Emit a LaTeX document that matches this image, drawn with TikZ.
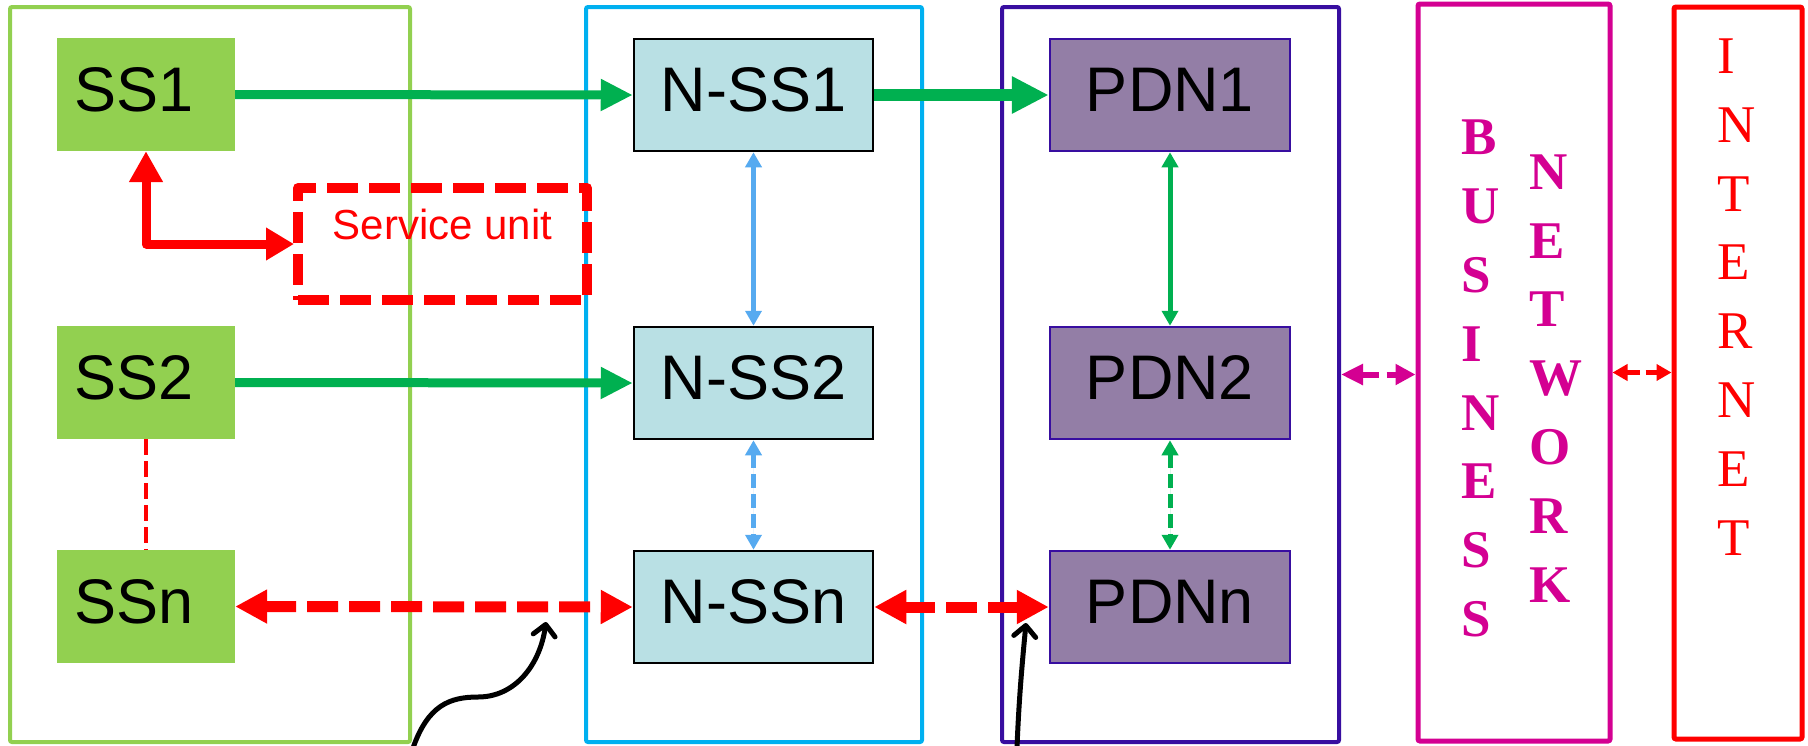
\documentclass[tikz,border=0pt]{standalone}
\usepackage{fontspec}
\setmainfont{Liberation Sans}
\newfontfamily\serifletters{Liberation Serif}
\usetikzlibrary{arrows.meta}

\definecolor{ssgreen}{RGB}{146,208,80}
\definecolor{arrowgreen}{RGB}{0,176,80}
\definecolor{framecyan}{RGB}{0,176,240}
\definecolor{nssfill}{RGB}{185,224,228}
\definecolor{pdnfill}{RGB}{147,126,166}
\definecolor{indigo}{RGB}{56,14,160}
\definecolor{bizmagenta}{RGB}{212,0,146}
\definecolor{linkblue}{RGB}{86,170,240}

\begin{document}
\begin{tikzpicture}[x=1pt,y=-1pt,
  frame/.style={draw, line width=4pt, rounded corners=2pt, inner sep=0pt},
  boxtext/.style={font=\fontsize{63}{70}\selectfont, text height=45pt, text depth=12pt, inner sep=0pt},
  ssbox/.style={boxtext, fill=ssgreen, minimum width=178pt, minimum height=113pt},
  nssbox/.style={boxtext, fill=nssfill, draw=black, line width=2.5pt, minimum width=239pt, minimum height=112pt},
  pdnbox/.style={boxtext, fill=pdnfill, draw=indigo, line width=2.5pt, minimum width=240pt, minimum height=112pt},
  svcbox/.style={draw=red, line width=10pt, line join=round, dash pattern=on 31pt off 11pt, outer sep=4pt,
    minimum width=289pt, minimum height=112pt, text=red, font=\fontsize{42}{48}\selectfont,
    text height=31pt, text depth=41pt, inner sep=0pt},
  columnword/.style={inner sep=0pt, align=left, anchor=west},
  flowarrow/.style={draw=arrowgreen, line width=9pt, -{Triangle[length=32pt,width=30pt]}},
  bigflow/.style={draw=arrowgreen, line width=12pt, -{Triangle[length=37pt,width=35pt]}},
  thinlink/.style={line width=5pt, {Triangle[length=15pt,width=16pt]}-{Triangle[length=15pt,width=16pt]}},
  thindash/.style={thinlink, dash pattern=on 14pt off 6pt},
  reddash/.style={draw=red, line width=11pt, dash pattern=on 31pt off 11pt,
    {Triangle[length=32pt,width=32pt]}-{Triangle[length=32pt,width=32pt]}},
  svclink/.style={draw=red, line width=9pt, line join=round,
    {Triangle[length=31pt,width=32pt]}-{Triangle[length=28pt,width=31pt]}},
  bizlink/.style={draw=bizmagenta, line width=6pt, dash pattern=on 17pt off 8pt,
    {Triangle[length=22pt,width=20pt]}-{Triangle[length=20pt,width=20pt]}},
  netlink/.style={draw=red, line width=5pt, dash pattern=on 13pt off 6pt,
    {Triangle[length=15pt,width=16pt]}-{Triangle[length=15pt,width=16pt]}},
  pointer/.style={draw=black, line width=5pt, line cap=round,
    -{Straight Barb[round,length=11pt,width=22pt]}}
]
\useasboundingbox (0,0) rectangle (1808,745);

% domain frames
\node[frame, draw=ssgreen, minimum width=400pt, minimum height=735pt] (fss) at (210,374.5) {};
\node[frame, draw=framecyan, minimum width=336pt, minimum height=735pt] (fnss) at (754,374.5) {};
\node[frame, draw=indigo, minimum width=337pt, minimum height=735pt] (fpdn) at (1170.5,374.5) {};
\node[frame, draw=bizmagenta, line width=5pt, minimum width=192pt, minimum height=737pt] (fbiz) at (1514,372.5) {};
\node[frame, draw=red, line width=5pt, minimum width=128pt, minimum height=732pt] (fnet) at (1738,373) {};

% subsystems (label set slightly left of centre)
\node[ssbox] (ss1) at (146,94.5) {SS1\kern24pt};
\node[ssbox] (ss2) at (146,382.5) {SS2\kern24pt};
\node[ssbox] (ssn) at (146,606.5) {SSn\kern24pt};

\node[nssbox] (nss1) at (753.5,95) {N-SS1};
\node[nssbox] (nss2) at (753.5,383) {N-SS2};
\node[nssbox] (nssn) at (753.5,607) {N-SSn};

\node[pdnbox] (pdn1) at (1170,95) {PDN1};
\node[pdnbox] (pdn2) at (1170,383) {PDN2};
\node[pdnbox] (pdnn) at (1170,607) {PDNn};

\node[svcbox] (svc) at (442.5,244) {Service unit};

% vertical lettering
\node[columnword, text=bizmagenta, font=\serifletters\bfseries\fontsize{53}{68.9}\selectfont]
  (business) at (1461,378.5) {B\\U\\S\\I\\N\\E\\S\\S};
\node[columnword, text=bizmagenta, font=\serifletters\bfseries\fontsize{53}{68.9}\selectfont]
  (network) at (1529,378.5) {N\\E\\T\\W\\O\\R\\K};
\node[columnword, text=red, font=\serifletters\fontsize{53}{68.9}\selectfont]
  (internet) at (1717,297) {I\\N\\T\\E\\R\\N\\E\\T};

% connectors
\draw[flowarrow] (ss1.east) -- (nss1.west);
\draw[flowarrow] (ss2.east) -- (nss2.west);
\draw[bigflow] (nss1.east) -- (pdn1.west);

\draw[thinlink, draw=linkblue, fill=linkblue] (nss1.south) -- (nss2.north);
\draw[thindash, draw=linkblue, fill=linkblue] (nss2.south) -- (nssn.north);
\draw[thinlink, draw=arrowgreen, fill=arrowgreen] (pdn1.south) -- (pdn2.north);
\draw[thindash, draw=arrowgreen, fill=arrowgreen] (pdn2.south) -- (pdnn.north);

\draw[red, line width=4pt, dash pattern=on 16pt off 6pt] (ss2.south) -- (ssn.north);
\draw[svclink] (ss1.south) |- (svc.west);

\draw[reddash] (ssn.east) -- (nssn.west);
\draw[reddash] (nssn.east) -- (pdnn.west);

\draw[bizlink] (fpdn.east) -- (fpdn.east -| fbiz.west);
\draw[netlink] (fbiz.east) -- (fbiz.east -| fnet.west);

% pointers coming up from below
\coordinate (p1s) at (413,748);
\coordinate (p1e) at (546,622);
\coordinate (p2s) at (1017,748);
\coordinate (p2e) at (1026,623);
\draw[pointer] (p1s) .. controls (428,705) and (450,697) .. (478,697)
  .. controls (515,697) and (540,665) .. (p1e);
\draw[pointer] (p2s) .. controls (1019,695) and (1023,655) .. (p2e);
\end{tikzpicture}
\end{document}
